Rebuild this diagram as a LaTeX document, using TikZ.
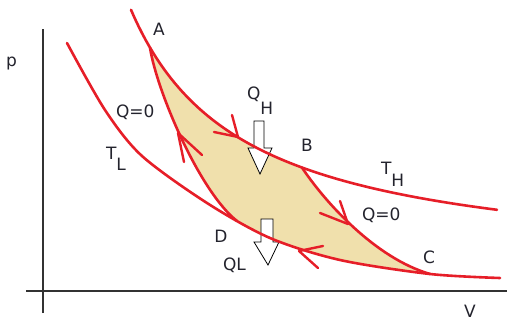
\documentclass[tikz,border=0pt]{standalone}
\usepackage{fontspec}
\setmainfont{DejaVu Sans}
\definecolor{cred}{RGB}{230,30,40}
\definecolor{beige}{RGB}{240,224,172}
\definecolor{axisgray}{RGB}{50,50,50}
\definecolor{txt}{RGB}{35,35,45}
\begin{document}
\begin{tikzpicture}[x=1pt,y=-1pt,
  curve/.style={draw=cred,line width=2.6pt,line cap=round,line join=round},
  barb/.style={draw=cred,line width=2.4pt,line cap=round,line join=round},
  axis/.style={draw=axisgray,line width=1.3pt},
  heat/.style={draw=black,fill=white,line width=0.8pt},
  lbl/.style={inner sep=0pt,outer sep=0pt,text=txt,font=\fontsize{17}{20}\selectfont}]
\useasboundingbox (0,0) rectangle (507,321);
% axes
\coordinate (yt) at (43,29); \coordinate (yb) at (43,313);
\coordinate (xl) at (26,291); \coordinate (xr) at (507,291);
\draw[axis] (yb) -- (yt);
\draw[axis] (xl) -- (xr);
% key points
\coordinate (A) at (150,47.7);
\coordinate (B) at (302,167.6);
\coordinate (C) at (430,274);
\coordinate (D) at (237,221);
\coordinate (Cl) at (440,290);
\coordinate (Dl) at (230,290);
% cycle fill, clipped above the lower isotherm
\begin{scope}
\clip plot[smooth] coordinates {(67,43) (105,110) (142,156) (207,203) (270,238) (340,260) (430,274) (500,278)} -- (500,0) -- (67,0) -- cycle;
\fill[beige] (A) -- plot[domain=150:302,samples=60] (\x,{271.2-293.62/((\x-18.6)*0.01)})
  .. controls (325,202) and (375,258) .. (C) -- (Cl) -- (Dl) -- (D)
  .. controls (200,192) and (157,92) .. (A) -- cycle;
\end{scope}
% heat arrows
\draw[heat] (254,121) -- (264,121) -- (264,148) -- (272,148) -- (260,174) -- (248,148) -- (254,148) -- cycle;
\draw[heat] (261,219) -- (273,219) -- (273,242) -- (279,242) -- (268,265) -- (254,242) -- (261,242) -- cycle;
% isotherms
\draw[curve] plot[domain=131:497,samples=100] (\x,{271.2-293.62/((\x-18.6)*0.01)});
\draw[curve] plot[smooth] coordinates {(67,43) (105,110) (142,156) (207,203) (270,238) (340,260) (430,274) (500,278)};
% adiabats
\draw[curve] (A) .. controls (157,92) and (200,192) .. (D);
\draw[curve] (B) .. controls (325,202) and (375,258) .. (C);
% arrowheads
\draw[barb] (214,132) -- (238,137) -- (232,115);
\draw[barb] (184,162) -- (178,133) -- (202,155);
\draw[barb] (320,213) -- (348,224) -- (340,201);
\draw[barb] (323,246) -- (299,251) -- (318,268);
% labels
\node[lbl,anchor=base west] (lp) at (6,67) {p};
\node[lbl,anchor=base] (lV) at (470,317) {V};
\node[lbl,anchor=base] (lA) at (159,36) {A};
\node[lbl,anchor=base] (lB) at (307,152) {B};
\node[lbl,anchor=base] (lC) at (429,263) {C};
\node[lbl,anchor=base] (lD) at (221,243) {D};
\node[lbl,anchor=base west] (lq1) at (116,118) {Q=0};
\node[lbl,anchor=base west] (lq2) at (362,221) {Q=0};
\node[lbl,anchor=base west] (lQL) at (223,270) {QL};
\node[lbl,anchor=base west] (lQH) at (247,100) {Q\raisebox{-15pt}{H}};
\node[lbl,anchor=base west] (lTH) at (381,175) {T\raisebox{-12pt}{H}};
\node[lbl,anchor=base west] (lTL) at (106,160) {T\raisebox{-11pt}{L}};
\end{tikzpicture}
\end{document}
